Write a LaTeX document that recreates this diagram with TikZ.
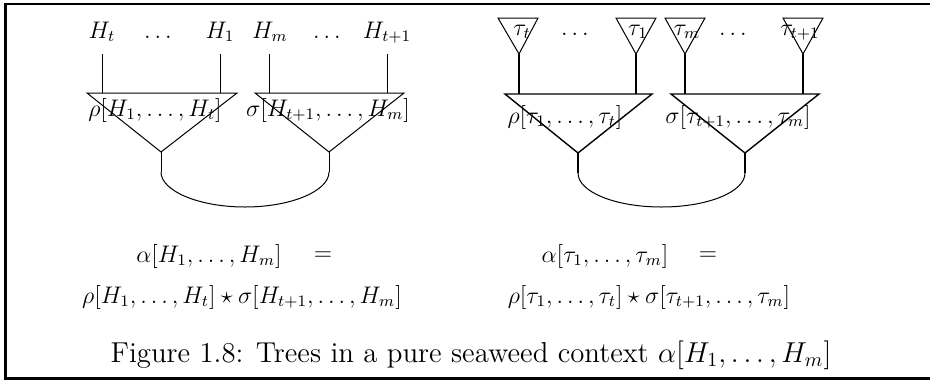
\documentclass[tikz,border=0pt]{standalone}
\usepackage{amsmath}
\usepackage{amssymb}
\usepackage{tikz}
\usetikzlibrary{positioning, calc}
\tikzset{
	lbl/.style   ={inner sep=0pt, font=\large},
	leaflbl/.style ={lbl, anchor=base},
	tri/.style   ={draw=black, line width=0.5pt},
	ttri/.style  ={draw=black, line width=0.7pt},
	edge/.style  ={draw=black, line width=0.5pt},
	tedge/.style ={draw=black, line width=0.7pt},
	frame/.style ={draw=black, line width=1.4pt},
	% seaweed arc between two stems
	weed/.style  ={draw=black, line width=0.5pt},
}

\begin{document}
\begin{tikzpicture}[x=0.5pt, y=-0.5pt]
	\useasboundingbox (0,0) rectangle (930,381);
	\draw[frame] (930,4) -- (5.3,4) -- (5.3,378.5) -- (930,378.5);

	% left tree: plain leaves
	\node[leaflbl] (Ht)  at (102,38) {$H_t$};
	\node[leaflbl] (hd1) at (158,38) {$\ldots$};
	\node[leaflbl] (H1)  at (220,38) {$H_1$};
	\node[leaflbl] (Hm)  at (270,38) {$H_m$};
	\node[leaflbl] (hd2) at (327,38) {$\ldots$};
	\node[leaflbl] (Htt) at (387,38) {$H_{t+1}$};
	\draw[tri] (87,93) coordinate (rhoL) -- (237,93) coordinate (rhoR) -- (161,152) coordinate (rhoA) -- cycle;
	\draw[tri] (255,93) coordinate (sigL) -- (404,93) coordinate (sigR) -- (329,152) coordinate (sigA) -- cycle;
	\foreach \n/\x in {a/102, b/220, c/269, d/387}
		\coordinate (leaf\n) at (\x,54);
	\draw[edge] (leafa) -- (leafa |- rhoL);
	\draw[edge] (leafb) -- (leafb |- rhoL);
	\draw[edge] (leafc) -- (leafc |- sigL);
	\draw[edge] (leafd) -- (leafd |- sigL);
	\node[lbl] (rho) at (155,110) {$\rho[H_1, \ldots, H_t]$};
	\node[lbl] (sig) at (328,110) {$\sigma[H_{t+1}, \ldots, H_m]$};
	\coordinate (rhoS) at (161,172);
	\coordinate (sigS) at (329,172);
	\coordinate (bot) at (245,207);
	\draw[edge] (rhoA) -- (rhoS);
	\draw[edge] (sigA) -- (sigS);
	\draw[weed] (rhoS) .. controls (161,191) and (199,207) .. (bot)
		.. controls (291,207) and (329,191) .. (sigS);
	\node[lbl] (alpha) at (209,256) {$\alpha[H_1,\ldots,H_m]$};
	\node[lbl] (eq) at (323,256) {$=$};
	\node[lbl] (prod) at (242,297) {$\rho[H_1,\ldots,H_t]\star\sigma[H_{t+1},\ldots,H_m]$};

	% right tree: leaves are trees
	\foreach \n/\l/\a in {a/498/519, b/616/636, c/665/685, d/783/803}
		\draw[tri] (\l,18) -- (\l+40,18) -- (\a,54) coordinate (tip\n) -- cycle;
	\node[leaflbl] (tt)  at (522,35) {$\tau_t$};
	\node[leaflbl] (td1) at (575,35) {$\ldots$};
	\node[leaflbl] (t1)  at (638,35) {$\tau_1$};
	\node[leaflbl] (tm)  at (687,35) {$\tau_m$};
	\node[leaflbl] (td2) at (733,35) {$\ldots$};
	\node[leaflbl] (ttt) at (800,35) {$\tau_{t+1}$};
	\draw[ttri] (505,94) coordinate (trhoL) -- (652,94) coordinate (trhoR) -- (578,153) coordinate (trhoA) -- cycle;
	\draw[ttri] (671,94) coordinate (tsigL) -- (819,94) coordinate (tsigR) -- (745,153) coordinate (tsigA) -- cycle;
	\draw[tedge] (tipa) -- (tipa |- trhoL);
	\draw[tedge] (tipb) -- (tipb |- trhoL);
	\draw[tedge] (tipc) -- (tipc |- tsigL);
	\draw[tedge] (tipd) -- (tipd |- tsigL);
	\node[lbl] (trho) at (565,117) {$\rho[\tau_1, \ldots, \tau_t]$};
	\node[lbl] (tsig) at (738,117) {$\sigma[\tau_{t+1}, \ldots, \tau_m]$};
	\coordinate (trhoS) at (578,173);
	\coordinate (tsigS) at (745,173);
	\coordinate (tbot) at (661.5,207);
	\draw[tedge] (trhoA) -- (trhoS);
	\draw[tedge] (tsigA) -- (tsigS);
	\draw[weed] (trhoS) .. controls (578,192) and (615.5,207) .. (tbot)
		.. controls (707.5,207) and (745,192) .. (tsigS);
	\node[lbl] (talpha) at (605,256) {$\alpha[\tau_1,\ldots,\tau_m]$};
	\node[lbl] (teq) at (708,256) {$=$};
	\node[lbl] (tprod) at (649,297) {$\rho[\tau_1,\ldots,\tau_t]\star\sigma[\tau_{t+1},\ldots,\tau_m]$};

	\node[lbl, font=\Large] (cap) at (471,355) {Figure 1.8: Trees in a pure seaweed context $\alpha[H_1,\ldots,H_m]$};
\end{tikzpicture}
\end{document}
